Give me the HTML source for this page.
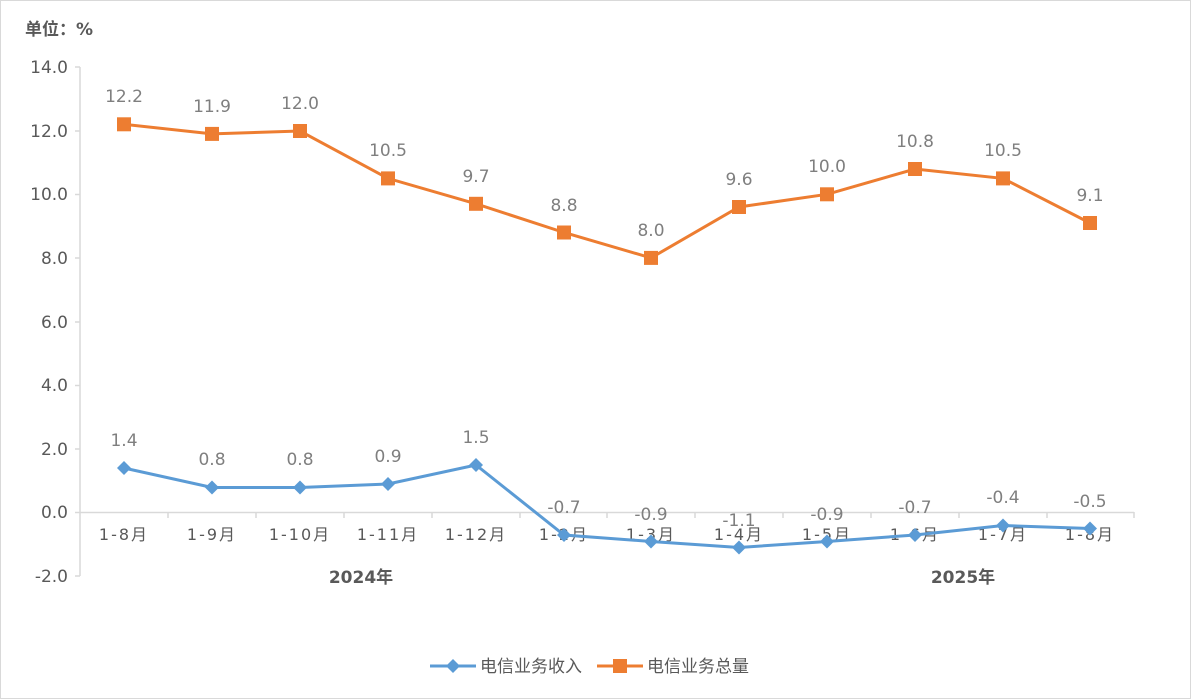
<!DOCTYPE html><html><head><meta charset="utf-8"><style>body{margin:0;background:#fff}svg{display:block}</style></head><body>
<svg width="1191" height="699" xmlns="http://www.w3.org/2000/svg" font-family="'DejaVu Sans','Liberation Sans','Noto Sans CJK SC',sans-serif">
<rect x="0.5" y="0.5" width="1190" height="698" fill="#fff" stroke="#d9d9d9"/>
<text x="25" y="35" font-size="17" font-weight="bold" fill="#595959">单位：%</text>
<g stroke="#d9d9d9" stroke-width="1.5" fill="none">
<line x1="80" y1="67" x2="80" y2="576"/>
<line x1="80" y1="512.5" x2="1134" y2="512.5"/>
<line x1="75" y1="67" x2="80" y2="67"/><line x1="75" y1="131" x2="80" y2="131"/><line x1="75" y1="194.5" x2="80" y2="194.5"/><line x1="75" y1="258" x2="80" y2="258"/><line x1="75" y1="322" x2="80" y2="322"/><line x1="75" y1="385.5" x2="80" y2="385.5"/><line x1="75" y1="449" x2="80" y2="449"/><line x1="75" y1="512.5" x2="80" y2="512.5"/><line x1="75" y1="576" x2="80" y2="576"/>
<path d="M168 512v6M256 512v6M344 512v6M432 512v6M520 512v6M607 512v6M695 512v6M783 512v6M871 512v6M959 512v6M1047 512v6M1134 512v6"/>
</g>
<g font-size="17" fill="#595959" text-anchor="end">
<text x="68" y="73">14.0</text><text x="68" y="137">12.0</text><text x="68" y="200">10.0</text><text x="68" y="264">8.0</text><text x="68" y="328">6.0</text><text x="68" y="391">4.0</text><text x="68" y="455">2.0</text><text x="68" y="518">0.0</text><text x="68" y="582">-2.0</text>
</g>
<g font-size="16" fill="#595959" text-anchor="middle" letter-spacing="2">
<text x="124" y="540">1-8月</text><text x="212" y="540">1-9月</text><text x="300" y="540">1-10月</text><text x="388" y="540">1-11月</text><text x="476" y="540">1-12月</text><text x="564" y="540">1-2月</text><text x="651" y="540">1-3月</text><text x="739" y="540">1-4月</text><text x="827" y="540">1-5月</text><text x="915" y="540">1-6月</text><text x="1003" y="540">1-7月</text><text x="1090" y="540">1-8月</text>
</g>
<g font-size="17" font-weight="bold" fill="#595959" text-anchor="middle">
<text x="361" y="583">2024年</text><text x="963" y="583">2025年</text>
</g>
<polyline fill="none" stroke="#ed7d31" stroke-width="3" points="124,124.3 212,133.9 300,131 388,178.4 476,203.8 564,232.5 651,257.9 739,207 827,194.3 915,169 1003,178.4 1090,223"/>
<g fill="#ed7d31"><rect x="117" y="117.3" width="14" height="14"/><rect x="205" y="126.9" width="14" height="14"/><rect x="293" y="124" width="14" height="14"/><rect x="381" y="171.4" width="14" height="14"/><rect x="469" y="196.8" width="14" height="14"/><rect x="557" y="225.5" width="14" height="14"/><rect x="644" y="250.9" width="14" height="14"/><rect x="732" y="200" width="14" height="14"/><rect x="820" y="187.3" width="14" height="14"/><rect x="908" y="162" width="14" height="14"/><rect x="996" y="171.4" width="14" height="14"/><rect x="1083" y="216" width="14" height="14"/></g>
<polyline fill="none" stroke="#5b9bd5" stroke-width="3" points="124,468 212,487.5 300,487.5 388,484 476,465 564,535 651,541.5 739,547.5 827,541.5 915,535 1003,525.5 1090,528.5"/>
<g fill="#5b9bd5"><path d="M124 461l7 7-7 7-7-7z"/><path d="M212 480.5l7 7-7 7-7-7z"/><path d="M300 480.5l7 7-7 7-7-7z"/><path d="M388 477l7 7-7 7-7-7z"/><path d="M476 458l7 7-7 7-7-7z"/><path d="M564 528l7 7-7 7-7-7z"/><path d="M651 534.5l7 7-7 7-7-7z"/><path d="M739 540.5l7 7-7 7-7-7z"/><path d="M827 534.5l7 7-7 7-7-7z"/><path d="M915 528l7 7-7 7-7-7z"/><path d="M1003 518.5l7 7-7 7-7-7z"/><path d="M1090 521.5l7 7-7 7-7-7z"/></g>
<g font-size="17" fill="#7f7f7f" text-anchor="middle">
<text x="124" y="102">12.2</text><text x="212" y="112">11.9</text><text x="300" y="109">12.0</text><text x="388" y="156">10.5</text><text x="476" y="182">9.7</text><text x="564" y="211">8.8</text><text x="651" y="236">8.0</text><text x="739" y="185">9.6</text><text x="827" y="172">10.0</text><text x="915" y="147">10.8</text><text x="1003" y="156">10.5</text><text x="1090" y="201">9.1</text>
<text x="124" y="446">1.4</text><text x="212" y="465">0.8</text><text x="300" y="465">0.8</text><text x="388" y="462">0.9</text><text x="476" y="443">1.5</text><text x="564" y="513">-0.7</text><text x="651" y="520">-0.9</text><text x="739" y="526">-1.1</text><text x="827" y="520">-0.9</text><text x="915" y="513">-0.7</text><text x="1003" y="503">-0.4</text><text x="1090" y="507">-0.5</text>
</g>
<line x1="430" y1="666" x2="476" y2="666" stroke="#5b9bd5" stroke-width="3"/><path d="M453 659l7 7-7 7-7-7z" fill="#5b9bd5"/>
<text x="480" y="672" font-size="17" fill="#595959">电信业务收入</text>
<line x1="597" y1="666" x2="643" y2="666" stroke="#ed7d31" stroke-width="3"/><rect x="613" y="659" width="14" height="14" fill="#ed7d31"/>
<text x="647" y="672" font-size="17" fill="#595959">电信业务总量</text>
</svg></body></html>
